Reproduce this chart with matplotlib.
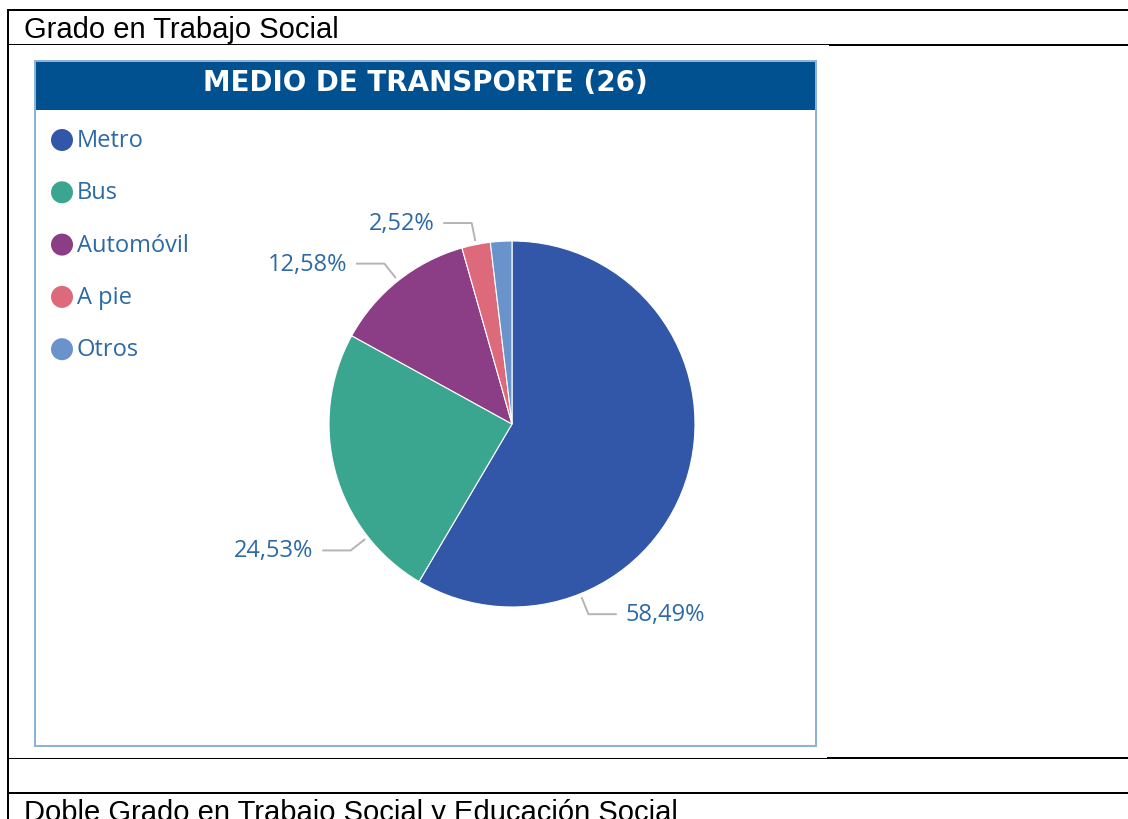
import matplotlib
matplotlib.use("Agg")

import numpy as np
import matplotlib.pyplot as plt
from matplotlib.patches import Rectangle

# =========================
# DATA
# =========================

categories = ["Metro", "Bus", "Automóvil", "A pie", "Otros"]
shares = [58.49, 24.53, 12.58, 2.52, 1.89]
show_label = [True, True, True, True, False]

header_text = "Grado en Trabajo Social"
footer_text = "Doble Grado en Trabajo Social y Educación Social"
chart_title = "MEDIO DE TRANSPORTE (26)"

# =========================
# STYLE
# =========================

colors = ["#3257a8", "#3aa690", "#8b3d86", "#dc6a7a", "#6a93cc"]
label_at = [0.751, 0.242, 0.5, 0.5, 0.5]   # where along each wedge the leader starts
text_blue = "#2d6aa5"
bar_blue = "#01508f"
panel_edge = "#8db3da"
leader_grey = "#b4b4b4"

W, H = 1128, 820
px = 0.72  # points per pixel at dpi 100

plt.rcParams["font.family"] = ["Open Sans", "DejaVu Sans"]

fig = plt.figure(figsize=(W / 100, H / 100), dpi=100)

# =========================
# PAGE FRAME (table lines)
# =========================

bg = fig.add_axes([0, 0, 1, 1])
bg.set_xlim(0, W)
bg.set_ylim(H, 0)
bg.axis("off")

bg.plot([8, W], [11, 11], color="black", lw=2 * px)
bg.plot([8, 8], [11, H], color="black", lw=2 * px)
bg.plot([8, 830], [45, 45], color="black", lw=1 * px)
bg.plot([830, W], [45.5, 45.5], color="black", lw=2 * px)
bg.plot([8, 828], [759, 759], color="black", lw=1 * px)
bg.plot([828, W], [758.5, 758.5], color="black", lw=2 * px)
bg.plot([8, W], [794, 794], color="black", lw=2 * px)

bg.text(24, 38, header_text, fontsize=21, family="Liberation Sans",
        color="black", va="baseline", ha="left")
bg.text(24, 821, footer_text, fontsize=21, family="Liberation Sans",
        color="black", va="baseline", ha="left")

# =========================
# CHART PANEL
# =========================

bg.add_patch(Rectangle((35, 62), 781, 685, fill=False,
                       edgecolor=panel_edge, lw=2 * px))
bg.add_patch(Rectangle((36, 63), 779, 48, facecolor=bar_blue,
                       edgecolor="none"))
bg.text((35 + 816) / 2, 83, chart_title, color="white", fontsize=20,
        family="DejaVu Sans", fontweight="bold",
        ha="center", va="center")

# legend
for i, (name, col) in enumerate(zip(categories, colors)):
    y = 141 + 52.3 * i
    bg.scatter(62, y, s=(22 * px) ** 2, color=col, edgecolors="none")
    bg.text(77, y, name, fontsize=17, color=text_blue,
            ha="left", va="center")

# =========================
# PIE
# =========================

R = 183
cx, cy = 512, 425
s = 1.6

ax = fig.add_axes([(cx - s * R) / W, (H - cy - s * R) / H,
                   2 * s * R / W, 2 * s * R / H])

ax.pie(shares, colors=colors, startangle=90, counterclock=False,
       radius=1, wedgeprops=dict(edgecolor="white", linewidth=0.8))
ax.set_xlim(-s, s)
ax.set_ylim(-s, s)
ax.set_aspect("equal")
ax.axis("off")

# =========================
# LABELS WITH LEADERS
# =========================

total = float(np.sum(shares))
start = 0.0

for val, show, pos in zip(shares, show_label, label_at):
    frac0 = start / total
    frac1 = (start + val) / total
    start += val

    if not show:
        continue

    theta = 2 * np.pi * (frac0 + pos * (frac1 - frac0))
    a = np.pi / 2 - theta
    ux, uy = np.cos(a), np.sin(a)
    side = 1 if ux > 0 else -1

    p0 = (1.025 * ux, 1.025 * uy)
    p1 = (1.12 * ux, 1.12 * uy)
    p2 = (p1[0] + side * 0.15, p1[1])

    ax.plot([p0[0], p1[0], p2[0]], [p0[1], p1[1], p2[1]],
            color=leader_grey, lw=1.4, clip_on=False)

    txt = f"{val:.2f}%".replace(".", ",")
    ax.text(p2[0] + side * 0.055, p2[1], txt, fontsize=17, color=text_blue,
            ha="left" if side > 0 else "right", va="center", clip_on=False)

plt.savefig("out.png", dpi=100)
plt.close()
